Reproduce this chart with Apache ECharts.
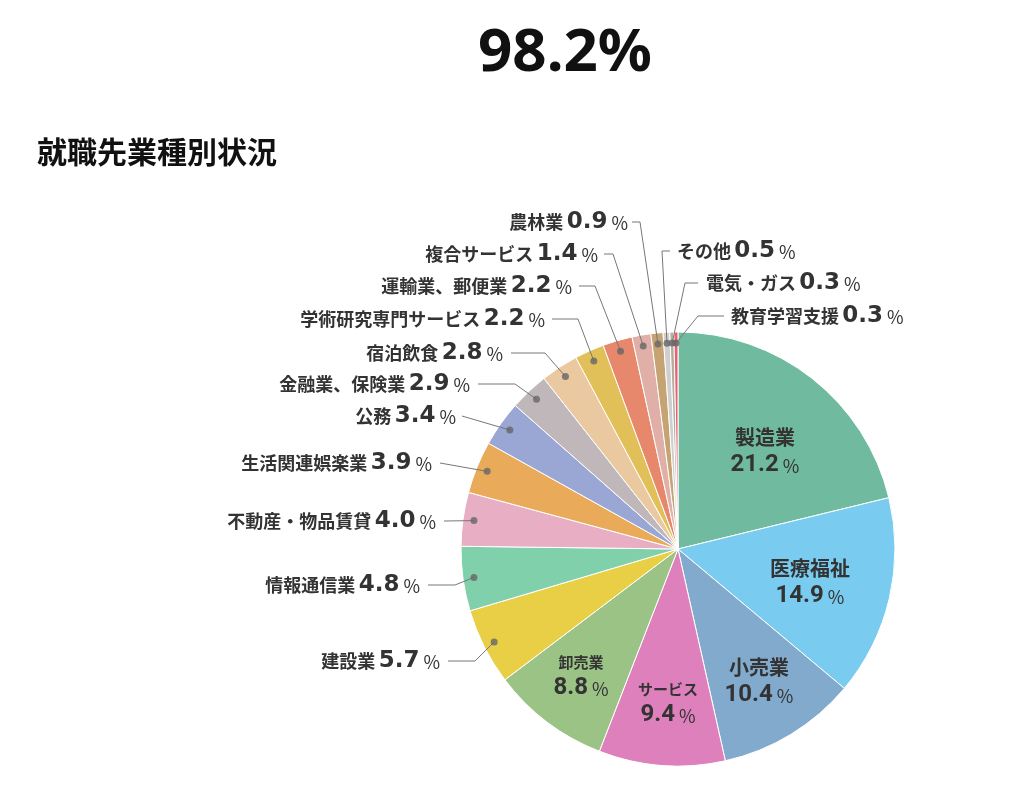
<!DOCTYPE html>
<html>
<head>
<meta charset="utf-8">
<script src="https://cdn.jsdelivr.net/npm/echarts@6/dist/echarts.min.js"></script>
<style>
html,body{margin:0;padding:0;background:#fff;}
#chart{width:1024px;height:810px;}
</style>
</head>
<body>
<div id="chart"></div>
<script>
// ---- data ----
const headline = '98.2%';
const subtitle = '就職先業種別状況';
const categories = ['製造業','医療福祉','小売業','サービス','卸売業','建設業','情報通信業','不動産・物品賃貸','生活関連娯楽業','公務','金融業、保険業','宿泊飲食','学術研究専門サービス','運輸業、郵便業','複合サービス','農林業','その他','電気・ガス','教育学習支援'];
const values = [21.2,14.9,10.4,9.4,8.8,5.7,4.8,4.0,3.9,3.4,2.9,2.8,2.2,2.2,1.4,0.9,0.5,0.3,0.3];
const insideNames = ['製造業','医療福祉','小売業','サービス','卸売業'];

// ---- styles / layout ----
const colors = ['#70bb9f','#79cbef','#82aacc','#de80bb','#9cc386','#e9cf45','#80d1ab','#e8aec4','#e9aa5a','#9aa6d3','#c0b7ba','#eac8a0','#e2c059','#e7876c','#e0b0a8','#c6a373','#cfcfcf','#b8aca0','#e8606e'];
const CX = 678, CY = 549, R = 217, RDOT = 206;
const TEXT = '#333';
const JP = '"Noto Sans CJK JP"';
const NUM = 'Roboto';
const NUM_OUT = '"DejaVu Sans"';
// inside label block centers
const innerPos = {'製造業':[765,451],'医療福祉':[810,582],'小売業':[759,681],'サービス':[668,703],'卸売業':[581,676]};
const smallInner = {'サービス':true,'卸売業':true};
// outside labels: [anchorX, y, bendX, lineEndX, align]
const outerPos = {
  '建設業':[440,661,475,448,'right'],
  '情報通信業':[420,585,455,428,'right'],
  '不動産・物品賃貸':[436,521,444,444,'right'],
  '生活関連娯楽業':[432,463,440,440,'right'],
  '公務':[456,416,462,462,'right'],
  '金融業、保険業':[470,384,515,478,'right'],
  '宿泊飲食':[503,353,545,511,'right'],
  '学術研究専門サービス':[545,319,578,552,'right'],
  '運輸業、郵便業':[572,286,595,579,'right'],
  '複合サービス':[598,254,613,604,'right'],
  '農林業':[628,222,640,632,'right'],
  'その他':[677,251,662,670,'left'],
  '電気・ガス':[706,283,685,698,'left'],
  '教育学習支援':[731,316,698,724,'left']
};

const total = values.reduce((a,b)=>a+b,0);
const mids = [];
let acc = 0;
values.forEach(v => { mids.push((acc + v/2) / total * 100); acc += v; });

const pieData = categories.map((c,i)=>({
  name: c, value: values[i],
  itemStyle: {color: colors[i]},
  label: insideNames.indexOf(c) >= 0 ? {show: true} : {show: false}
}));
const outData = categories.map((c,i)=>({
  name: c, value: values[i],
  label: insideNames.indexOf(c) >= 0 ? {show: false} : {show: true},
  labelLine: insideNames.indexOf(c) >= 0 ? {show: false} : {show: true}
}));
const dotData = [];
categories.forEach((c,i)=>{ if (insideNames.indexOf(c) < 0) dotData.push([RDOT, mids[i]]); });

const fmtInside = p => {
  const s = smallInner[p.name] ? 'ns' : 'n';
  return '{' + s + '|' + p.name + '}\n{v|' + p.value.toFixed(1) + '}{pc|%}';
};
const fmtOutside = p => '{n|' + p.name + '} {v|' + p.value.toFixed(1) + '}{pc|%}';

const chart = echarts.init(document.getElementById('chart'), null, {renderer: 'canvas'});
chart.setOption({
  animation: false,
  graphic: [
    {type:'text', x: 565, y: 54, style: {text: headline, font: 'bold 60px "Noto Sans"', fill: '#111', textAlign: 'center', textVerticalAlign: 'middle'}},
    {type:'text', x: 37, y: 152, style: {text: subtitle, font: 'bold 30px ' + JP, fill: '#111', textAlign: 'left', textVerticalAlign: 'middle'}}
  ],
  polar: {center: [CX, CY], radius: R},
  angleAxis: {type: 'value', min: 0, max: 100, startAngle: 90, clockwise: true, show: false},
  radiusAxis: {type: 'value', min: 0, max: R, show: false},
  series: [
    {
      type: 'pie', center: [CX, CY], radius: R, startAngle: 90, clockwise: true,
      avoidLabelOverlap: false, silent: true, z: 2,
      itemStyle: {borderColor: '#fff', borderWidth: 1},
      label: {
        position: 'inside', formatter: fmtInside, color: TEXT,
        rich: {
          n: {fontFamily: JP, fontWeight: 'bold', fontSize: 20, color: TEXT, lineHeight: 28, align: 'center'},
          ns: {fontFamily: JP, fontWeight: 'bold', fontSize: 15, color: TEXT, lineHeight: 24, align: 'center'},
          v: {fontFamily: NUM, fontWeight: 'bold', fontSize: 24, color: TEXT, lineHeight: 28},
          pc: {fontFamily: JP, fontWeight: 'normal', fontSize: 18, color: TEXT, padding: [2,0,0,4], lineHeight: 28}
        }
      },
      labelLine: {show: false},
      labelLayout: function (params) {
        const name = categories[params.dataIndex];
        const pos = innerPos[name];
        if (!pos) return {};
        return {x: pos[0], y: pos[1], align: 'center', verticalAlign: 'middle'};
      },
      data: pieData
    },
    {
      type: 'pie', center: [CX, CY], radius: RDOT, startAngle: 90, clockwise: true,
      avoidLabelOverlap: false, silent: true, z: 3,
      itemStyle: {color: 'rgba(0,0,0,0)', borderWidth: 0},
      label: {
        position: 'outside', formatter: fmtOutside, color: TEXT,
        rich: {
          n: {fontFamily: JP, fontWeight: 'bold', fontSize: 18, color: TEXT},
          v: {fontFamily: NUM_OUT, fontWeight: 'bold', fontSize: 23, color: TEXT},
          pc: {fontFamily: JP, fontWeight: 'normal', fontSize: 18, color: TEXT, padding: [2,0,0,4]}
        }
      },
      labelLine: {show: true, length: 10, length2: 10, lineStyle: {color: '#777', width: 1}},
      labelLayout: function (params) {
        const i = params.dataIndex;
        const name = categories[i];
        const L = outerPos[name];
        if (!L) return {};
        const a = mids[i] / 100 * Math.PI * 2;
        const start = (params.labelLinePoints && params.labelLinePoints[0]) ? params.labelLinePoints[0] : [CX + RDOT * Math.sin(a), CY - RDOT * Math.cos(a)];
        return {
          x: L[0], y: L[1], align: L[4], verticalAlign: 'middle',
          labelLinePoints: [start, [L[2], L[1]], [L[3], L[1]]]
        };
      },
      data: outData
    },
    {
      type: 'scatter', coordinateSystem: 'polar', z: 10, silent: true,
      symbol: 'circle', symbolSize: 7,
      itemStyle: {color: '#666'},
      data: dotData
    }
  ]
});
</script>
</body>
</html>
